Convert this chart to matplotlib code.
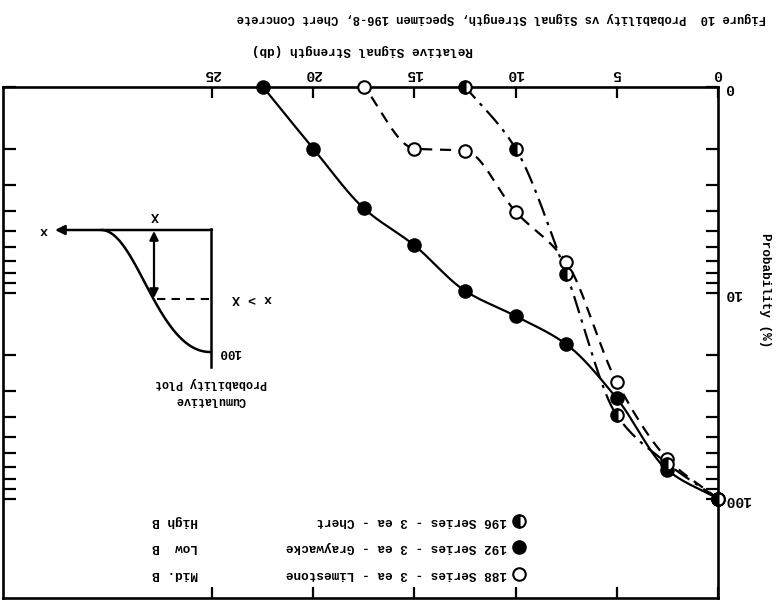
import numpy as np
import matplotlib
matplotlib.use("Agg")
import matplotlib.pyplot as plt
from matplotlib.ticker import FixedLocator, FixedFormatter, NullFormatter

# Relative signal strength (db) and cumulative probability (%) for each series.
# The top row of the probability paper is printed as "0"; it sits at 1 on the log scale.
limestone_db = [17.5, 15, 12.5, 10, 7.5, 5, 2.5, 0]
limestone_prob = [1, 2.0, 2.05, 4.05, 7.1, 27.2, 64, 100]

graywacke_db = [22.5, 20, 17.5, 15, 12.5, 10, 7.5, 5, 2.5, 0]
graywacke_prob = [1, 2.0, 3.9, 5.9, 9.8, 13, 17.8, 32.6, 72.6, 100]

chert_db = [12.5, 10, 7.5, 5, 2.5, 0]
chert_prob = [1, 2.0, 8.1, 39.4, 67.5, 100]

x_ticks = [0, 5, 10, 15, 20, 25]
y_major = [1, 10, 100]
y_major_labels = ["0", "10", "100"]
y_minor = [2, 3, 4, 5, 6, 7, 8, 9, 20, 30, 40, 50, 60, 70, 80, 90]

legend_rows = [
    ("188 Series - 3 ea - Limestone", "Mid. B"),
    ("192 Series - 3 ea - Graywacke", "Low  B"),
    ("196 Series - 3 ea - Chert", "High B"),
]

title = "Figure 10  Probability vs Signal Strength, Specimen 196-8, Chert Concrete"
xlabel = "Relative Signal Strength (db)"
ylabel = "Probability (%)"

FONT = ["Liberation Mono", "DejaVu Sans Mono"]
plt.rcParams["font.family"] = FONT
plt.rcParams["font.weight"] = "bold"

W, H = 779, 609


def pchip(x, y, xs):
    """Monotone cubic (Fritsch-Carlson) through the points, for a hand-drawn look."""
    x = np.asarray(x, float)
    y = np.asarray(y, float)
    h = np.diff(x)
    d = np.diff(y) / h
    m = np.zeros_like(y)
    m[0], m[-1] = d[0], d[-1]
    for k in range(1, len(x) - 1):
        if d[k - 1] * d[k] <= 0:
            m[k] = 0.0
        else:
            w1 = 2 * h[k] + h[k - 1]
            w2 = h[k] + 2 * h[k - 1]
            m[k] = (w1 + w2) / (w1 / d[k - 1] + w2 / d[k])
    idx = np.clip(np.searchsorted(x, xs) - 1, 0, len(x) - 2)
    t = (xs - x[idx]) / h[idx]
    h00 = 2 * t**3 - 3 * t**2 + 1
    h10 = t**3 - 2 * t**2 + t
    h01 = -2 * t**3 + 3 * t**2
    h11 = t**3 - t**2
    return (h00 * y[idx] + h10 * h[idx] * m[idx]
            + h01 * y[idx + 1] + h11 * h[idx] * m[idx + 1])


def smooth(db, prob):
    xs = np.asarray(db[::-1], float)
    ly = np.log10(np.asarray(prob[::-1], float))
    xx = np.linspace(xs[0], xs[-1], 300)
    return xx, 10 ** pchip(xs, ly, xx)


fig = plt.figure(figsize=(W / 100, H / 100), dpi=100)
fig.patch.set_facecolor("white")

# axes box in figure pixels (the sheet is printed upside down)
x0, x1 = 3, 718
y_top, y_bot = 86.5, 598
ax = fig.add_axes([x0 / W, 1 - y_bot / H, (x1 - x0) / W, (y_bot - y_top) / H])

ax.set_xscale("linear")
ax.set_yscale("log")
ax.set_xlim(35.33, 0)
ax.set_ylim(303, 1)

series = [
    (limestone_db, limestone_prob, (0, (5, 3.5)), "none", "full"),
    (graywacke_db, graywacke_prob, "-", "black", "full"),
    (chert_db, chert_prob, (0, (8, 3, 1.5, 3)), "black", "left"),
]
for db, prob, ls, mfc, fs in series:
    xx, yy = smooth(db, prob)
    ax.plot(xx, yy, color="black", lw=1.6, ls=ls, clip_on=False, zorder=3)
    ax.plot(db, prob, ls="none", marker="o", ms=9, mec="black", mew=1.5,
            mfc=("white" if mfc == "none" else "black"), fillstyle=fs,
            markerfacecoloralt="white", clip_on=False, zorder=4)

for s in ax.spines.values():
    s.set_linewidth(1.9)

ax.xaxis.set_major_locator(FixedLocator(x_ticks))
ax.xaxis.set_major_formatter(FixedFormatter([str(v) for v in x_ticks]))
ax.xaxis.set_ticks_position("both")
ax.tick_params(axis="x", which="major", direction="in", length=8, width=1.6,
               labeltop=True, labelbottom=False, labelsize=10.5, pad=4)

ax.yaxis.set_major_locator(FixedLocator(y_major))
ax.yaxis.set_major_formatter(FixedFormatter(y_major_labels))
ax.yaxis.set_minor_locator(FixedLocator(y_minor))
ax.yaxis.set_minor_formatter(NullFormatter())
ax.yaxis.set_ticks_position("both")
ax.tick_params(axis="y", which="both", direction="in", length=9, width=1.6,
               labelright=True, labelleft=False, labelsize=10.5, pad=5)

for lab in ax.get_xticklabels() + ax.get_yticklabels():
    lab.set_rotation(180)
    lab.set_fontweight("bold")

# text set upside down like the rest of the sheet
def ptext(x, y, s, **kw):
    kw.setdefault("rotation", 180)
    kw.setdefault("ha", "center")
    kw.setdefault("va", "center")
    kw.setdefault("fontweight", "bold")
    return fig.text(x / W, 1 - y / H, s, **kw)

ptext(501, 18, title, fontsize=8.7)
ptext(362, 50, xlabel, fontsize=9.2)
ptext(765, 290, ylabel, fontsize=9.2, rotation=270)

# overlay in figure pixels for the legend keys and the schematic
ov = fig.add_axes([0, 0, 1, 1], facecolor="none")
ov.set_xlim(0, W)
ov.set_ylim(H, 0)
ov.axis("off")

row_y = [574, 547, 521]
key_styles = [("white", "full"), ("black", "full"), ("black", "left")]
for (left_txt, right_txt), yy, (fc, fs) in zip(legend_rows, row_y, key_styles):
    ov.plot([519], [yy], marker="o", ms=9, mec="black", mew=1.5, mfc=fc,
            fillstyle=fs, markerfacecoloralt="white", ls="none")
    ptext(507, yy, left_txt, ha="right", fontsize=9.2)
    ptext(198, yy, right_txt, ha="right", fontsize=9.2)

# cumulative probability schematic
ov.plot([211, 211], [229, 367], color="black", lw=1.8)
ov.annotate("", xy=(55, 230), xytext=(212, 230),
            arrowprops=dict(arrowstyle="-|>", lw=1.8, color="black",
                            mutation_scale=14, shrinkA=0, shrinkB=0))
t = np.linspace(0, 1, 100)
bx = np.array([102, 137, 158, 210])
by = np.array([230, 232, 352, 352])
cx = ((1 - t)**3 * bx[0] + 3 * (1 - t)**2 * t * bx[1]
      + 3 * (1 - t) * t**2 * bx[2] + t**3 * bx[3])
cy = ((1 - t)**3 * by[0] + 3 * (1 - t)**2 * t * by[1]
      + 3 * (1 - t) * t**2 * by[2] + t**3 * by[3])
ov.plot(cx, cy, color="black", lw=1.8)
ov.annotate("", xy=(154, 298), xytext=(154, 231),
            arrowprops=dict(arrowstyle="<|-|>", lw=1.6, color="black",
                            mutation_scale=13, shrinkA=0, shrinkB=0))
ov.plot([157, 211], [299, 299], color="black", lw=1.5, ls=(0, (4, 3)))
ptext(155, 215, "X", fontsize=9.5)
ptext(44, 230, "x", fontsize=9.5)
ptext(252, 298, "x > X", fontsize=9.5)
ptext(230, 352, "100", fontsize=9)
ptext(211, 383, "Probability Plot", fontsize=8.5)
ptext(211, 400, "Cumulative", fontsize=8.5)

fig.savefig("out.png", dpi=100, facecolor="white")
